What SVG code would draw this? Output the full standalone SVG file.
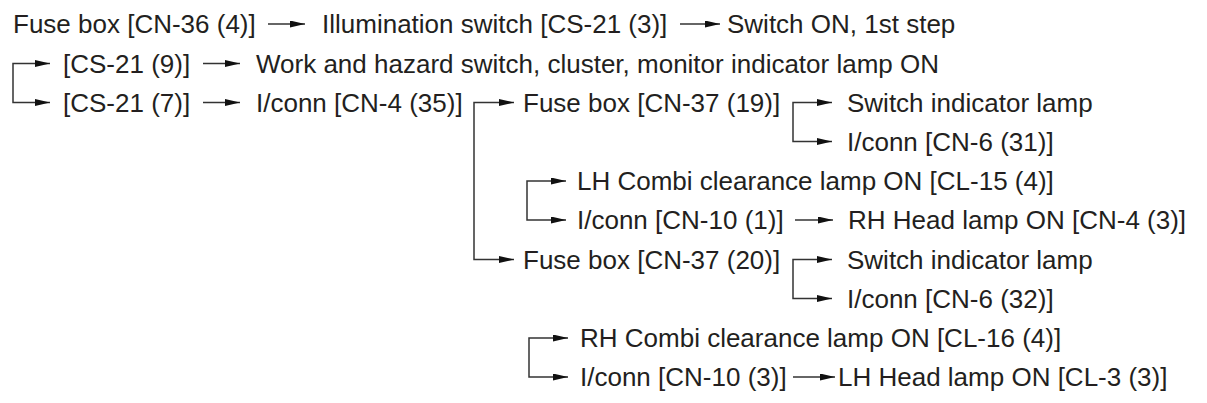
<svg xmlns="http://www.w3.org/2000/svg" width="1207" height="403" viewBox="0 0 1207 403">
<style>
text{font-family:"Liberation Sans",Arial,Helvetica,sans-serif;font-size:26px;fill:#231f20}
.c{fill:none;stroke:#333;stroke-width:1.5}
</style>
<defs>
<marker id="ah" markerUnits="userSpaceOnUse" markerWidth="16" markerHeight="8" refX="15" refY="3.5" orient="auto-start-reverse" viewBox="0 0 16 8">
<path d="M0,0 L15,3.5 L0,7 Z" fill="#111"/>
</marker>
</defs>
<rect width="1207" height="403" fill="#fff"/>
<g id="connectors" marker-end="url(#ah)">
<path class="c" d="M268,24 H305" marker-end="url(#ah)"/>
<path class="c" d="M680,24 H720" marker-end="url(#ah)"/>
<path class="c" d="M50,63.5 H13 V102.5 H50" marker-start="url(#ah)" marker-end="url(#ah)"/>
<path class="c" d="M203,63.5 H240" marker-end="url(#ah)"/>
<path class="c" d="M203,102.5 H240" marker-end="url(#ah)"/>
<path class="c" d="M514,102.5 H474 V259.5 H514" marker-start="url(#ah)" marker-end="url(#ah)"/>
<path class="c" d="M832,102.5 H793 V141.5 H832" marker-start="url(#ah)" marker-end="url(#ah)"/>
<path class="c" d="M566,181 H527 V220 H566" marker-start="url(#ah)" marker-end="url(#ah)"/>
<path class="c" d="M795,220 H833" marker-end="url(#ah)"/>
<path class="c" d="M832,259.5 H793 V298.5 H832" marker-start="url(#ah)" marker-end="url(#ah)"/>
<path class="c" d="M568,338 H529 V377 H568" marker-start="url(#ah)" marker-end="url(#ah)"/>
<path class="c" d="M793,377 H835" marker-end="url(#ah)"/>
</g>
<g id="n1"><text x="13" y="33">Fuse box [CN-36 (4)]</text></g>
<g id="n2"><text x="322" y="33">Illumination switch [CS-21 (3)]</text></g>
<g id="n3"><text x="727" y="33">Switch ON, 1st step</text></g>
<g id="n4"><text x="63" y="72.5">[CS-21 (9)]</text></g>
<g id="n5"><text x="256" y="72.5">Work and hazard switch, cluster, monitor indicator lamp ON</text></g>
<g id="n6"><text x="63" y="111.5">[CS-21 (7)]</text></g>
<g id="n7"><text x="256" y="111.5">I/conn [CN-4 (35)]</text></g>
<g id="n8"><text x="523" y="111.5">Fuse box [CN-37 (19)]</text></g>
<g id="n9"><text x="847" y="111.5">Switch indicator lamp</text></g>
<g id="n10"><text x="847" y="150.5">I/conn [CN-6 (31)]</text></g>
<g id="n11"><text x="577" y="190">LH Combi clearance lamp ON [CL-15 (4)]</text></g>
<g id="n12"><text x="577" y="229">I/conn [CN-10 (1)]</text></g>
<g id="n13"><text x="848" y="229">RH Head lamp ON [CN-4 (3)]</text></g>
<g id="n14"><text x="523" y="268.5">Fuse box [CN-37 (20)]</text></g>
<g id="n15"><text x="847" y="268.5">Switch indicator lamp</text></g>
<g id="n16"><text x="847" y="307.5">I/conn [CN-6 (32)]</text></g>
<g id="n17"><text x="580" y="347">RH Combi clearance lamp ON [CL-16 (4)]</text></g>
<g id="n18"><text x="580" y="386">I/conn [CN-10 (3)]</text></g>
<g id="n19"><text x="838" y="386">LH Head lamp ON [CL-3 (3)]</text></g>
</svg>
